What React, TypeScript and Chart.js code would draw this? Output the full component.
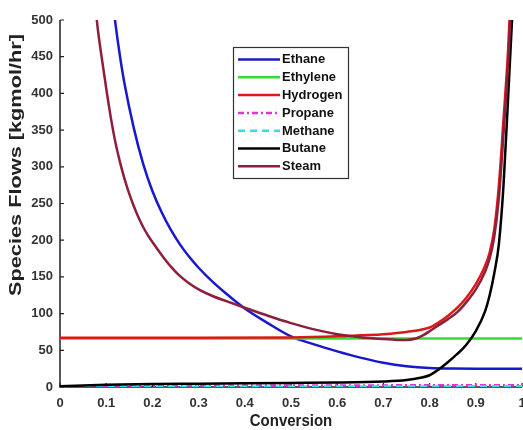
import React, { useEffect, useRef } from 'react';
import { Chart, registerables } from 'chart.js';

Chart.register(...registerables);

// ---- data ----
const xTickValues = [0, 0.1, 0.2, 0.3, 0.4, 0.5, 0.6, 0.7, 0.8, 0.9, 1];
const xTickLabels = ['0', '0.1', '0.2', '0.3', '0.4', '0.5', '0.6', '0.7', '0.8', '0.9', '1'];
const yTickValues = [0, 50, 100, 150, 200, 250, 300, 350, 400, 450, 500];
const yTickLabels = ['0', '50', '100', '150', '200', '250', '300', '350', '400', '450', '500'];

const ethaneX = [0.1, 0.11, 0.12, 0.13, 0.14, 0.16, 0.18, 0.2, 0.22, 0.24, 0.26, 0.28, 0.3, 0.33, 0.36, 0.4, 0.45, 0.5, 0.55, 0.6, 0.65, 0.7, 0.75, 0.8, 0.85, 0.9, 1.0];
const ethaneY = [610, 550, 495, 450, 412, 352, 304, 267, 238, 214, 194, 177, 162.5, 143.5, 127, 107, 87, 69, 58, 48.5, 40, 33, 28.3, 25.8, 25.1, 25, 25];

const ethyleneX = [0, 0.25, 0.5, 0.75, 1.0];
const ethyleneY = [66, 66, 66, 66, 66];

const hydrogenX = [0, 0.25, 0.5, 0.6, 0.65, 0.7, 0.75, 0.8, 0.82, 0.84, 0.86, 0.88, 0.9, 0.92, 0.93, 0.94, 0.95, 0.96, 0.97, 0.98];
const hydrogenY = [67, 67.2, 67.5, 69, 70.5, 72, 75, 81, 88, 97, 108, 122, 140, 165, 183, 215, 275, 365, 460, 600];

const propaneX = [0, 0.1, 0.2, 0.3, 0.4, 0.5, 0.6, 0.7, 0.8, 0.9, 1.0];
const propaneY = [0.5, 1.5, 1.8, 2, 2, 2, 2.1, 2.2, 2.3, 2.4, 2.5];

const methaneX = [0, 0.1, 0.2, 0.3, 0.4, 0.5, 0.6, 0.7, 0.8, 0.9, 1.0];
const methaneY = [0, 0.2, 0.3, 0.4, 0.5, 0.5, 0.6, 0.7, 0.8, 0.9, 1.0];

const butaneX = [0, 0.1, 0.2, 0.3, 0.4, 0.5, 0.6, 0.7, 0.75, 0.78, 0.8, 0.82, 0.84, 0.86, 0.88, 0.9, 0.92, 0.93, 0.94, 0.95, 0.96, 0.97, 0.98];
const butaneY = [1, 3, 4, 4.5, 5, 5.5, 6, 7.5, 9.5, 12.5, 16, 24, 34, 45, 58, 76, 103, 125, 155, 195, 275, 395, 520];

const steamX = [0.06, 0.07, 0.08, 0.09, 0.1, 0.11, 0.12, 0.13, 0.14, 0.15, 0.16, 0.17, 0.18, 0.19, 0.2, 0.22, 0.24, 0.26, 0.28, 0.3, 0.33, 0.36, 0.4, 0.45, 0.5, 0.55, 0.6, 0.65, 0.7, 0.72, 0.75, 0.77, 0.78, 0.8, 0.82, 0.84, 0.86, 0.88, 0.9, 0.92, 0.93, 0.94, 0.95, 0.96, 0.97, 0.98];
const steamY = [660, 575, 498, 450, 407, 367, 333, 306, 283, 263, 246, 231, 218, 207, 197.5, 180, 164, 151, 141, 133, 124, 117, 108, 97, 87, 78.5, 72, 67.8, 65.3, 64.6, 64, 66, 68.5, 76, 84.5, 92.5, 102, 116, 133, 157, 175, 205, 258, 345, 440, 570];

const seriesNames = ['Ethane', 'Ethylene', 'Hydrogen', 'Propane', 'Methane', 'Butane', 'Steam'];
const xAxisTitle = 'Conversion';
const yAxisTitle = 'Species Flows [kgmol/hr]';

// ---- styles ----
const FONT = '"Liberation Sans", Arial, Helvetica, sans-serif';
const seriesStyles = [
  { color: '#1818CC', dash: [] as number[] },
  { color: '#33DD33', dash: [] as number[] },
  { color: '#DD1818', dash: [] as number[] },
  { color: '#DD33DD', dash: [6, 3, 2, 3] },
  { color: '#33DDE6', dash: [7, 5] },
  { color: '#000000', dash: [] as number[] },
  { color: '#8E1F3A', dash: [] as number[] },
];

const toPoints = (xs: number[], ys: number[]) => xs.map((x, i) => ({ x, y: ys[i] }));
const seriesData = [
  toPoints(ethaneX, ethaneY),
  toPoints(ethyleneX, ethyleneY),
  toPoints(hydrogenX, hydrogenY),
  toPoints(propaneX, propaneY),
  toPoints(methaneX, methaneY),
  toPoints(butaneX, butaneY),
  toPoints(steamX, steamY),
];

const axesPlugin = {
  id: 'matlabAxes',
  beforeDatasetsDraw(chart: any) {
    const { ctx, chartArea } = chart;
    const xs = chart.scales.x;
    const ys = chart.scales.y;
    ctx.save();
    ctx.strokeStyle = '#222';
    ctx.lineWidth = 1.5;
    ctx.beginPath();
    ctx.moveTo(chartArea.left, chartArea.top);
    ctx.lineTo(chartArea.left, chartArea.bottom);
    ctx.lineTo(chartArea.right, chartArea.bottom);
    ctx.stroke();
    ctx.lineWidth = 1.2;
    ctx.beginPath();
    xTickValues.forEach((v) => {
      const px = xs.getPixelForValue(v);
      ctx.moveTo(px, chartArea.bottom);
      ctx.lineTo(px, chartArea.bottom - 4);
    });
    yTickValues.forEach((v) => {
      const py = ys.getPixelForValue(v);
      ctx.moveTo(chartArea.left, py);
      ctx.lineTo(chartArea.left + 4, py);
    });
    ctx.stroke();
    ctx.restore();
  },
  afterDraw(chart: any) {
    const { ctx, chartArea } = chart;
    ctx.save();
    ctx.fillStyle = '#222';
    ctx.textAlign = 'center';
    ctx.textBaseline = 'middle';
    // x title
    ctx.save();
    ctx.translate((chartArea.left + chartArea.right) / 2, 421);
    ctx.scale(1, 1.15);
    ctx.font = `bold 15px ${FONT}`;
    ctx.fillText(xAxisTitle, 0, 0);
    ctx.restore();
    // y title
    ctx.save();
    ctx.translate(17, 165);
    ctx.rotate(-Math.PI / 2);
    ctx.font = `bold 15px ${FONT}`;
    const w = ctx.measureText(yAxisTitle).width;
    ctx.scale(262 / w, 1.05);
    ctx.fillText(yAxisTitle, 0, 0);
    ctx.restore();

    // legend
    const bx = 233, by = 47, bw = 115, bh = 131;
    ctx.fillStyle = '#fff';
    ctx.fillRect(bx, by, bw, bh);
    ctx.strokeStyle = '#333';
    ctx.lineWidth = 1.2;
    ctx.strokeRect(bx + 0.5, by + 0.5, bw, bh);
    chart.data.datasets.forEach((ds: any, i: number) => {
      const y = 59.5 + i * 17.8;
      ctx.strokeStyle = ds.borderColor;
      ctx.lineWidth = 2.5;
      ctx.setLineDash(ds.borderDash || []);
      ctx.beginPath();
      ctx.moveTo(238, y);
      ctx.lineTo(280, y);
      ctx.stroke();
      ctx.setLineDash([]);
      ctx.save();
      ctx.translate(282, y + 0.5);
      ctx.scale(1.08, 1);
      ctx.fillStyle = '#111';
      ctx.font = `bold 12px ${FONT}`;
      ctx.textAlign = 'left';
      ctx.textBaseline = 'middle';
      ctx.fillText(ds.label, 0, 0);
      ctx.restore();
    });
    ctx.restore();
  },
};

export default function App() {
  const ref = useRef<HTMLCanvasElement | null>(null);
  useEffect(() => {
    document.body.style.margin = '0';
    if (!ref.current) return;
    const chart = new Chart(ref.current, {
      type: 'line',
      data: {
        datasets: seriesNames.map((name, i) => ({
          label: name,
          data: seriesData[i],
          borderColor: seriesStyles[i].color,
          backgroundColor: seriesStyles[i].color,
          borderDash: seriesStyles[i].dash,
          borderWidth: 2.5,
          pointRadius: 0,
          fill: false,
          cubicInterpolationMode: 'monotone',
          order: seriesNames.length - 1 - i,
        })),
      },
      options: {
        responsive: false,
        animation: false,
        devicePixelRatio: 1,
        layout: { autoPadding: false, padding: { top: 20, right: 1, left: 0, bottom: 0 } },
        plugins: { legend: { display: false }, tooltip: { enabled: false } },
        scales: {
          x: {
            type: 'linear',
            min: 0,
            max: 1,
            afterFit: (s: any) => { s.height = 43; s.paddingLeft = 0; s.paddingRight = 0; },
            afterBuildTicks: (s: any) => { s.ticks = xTickValues.map((v) => ({ value: v })); },
            grid: { display: false, drawTicks: false },
            border: { display: false },
            ticks: {
              padding: 9,
              maxRotation: 0,
              autoSkip: false,
              color: '#333',
              font: { family: FONT, size: 13, weight: 'bold' },
              callback: (_v: any, idx: number) => xTickLabels[idx],
            },
          },
          y: {
            type: 'linear',
            min: 0,
            max: 500,
            afterFit: (s: any) => { s.width = 60; s.paddingTop = 0; s.paddingBottom = 0; },
            afterBuildTicks: (s: any) => { s.ticks = yTickValues.map((v) => ({ value: v })); },
            grid: { display: false, drawTicks: false },
            border: { display: false },
            ticks: {
              padding: 7,
              autoSkip: false,
              color: '#333',
              font: { family: FONT, size: 13, weight: 'bold' },
              callback: (_v: any, idx: number) => yTickLabels[idx],
            },
          },
        },
      },
      plugins: [axesPlugin],
    } as any);
    return () => chart.destroy();
  }, []);
  return (
    <div style={{ width: 523, height: 430, background: '#fff' }}>
      <canvas ref={ref} width={523} height={430} style={{ display: 'block' }} />
    </div>
  );
}
